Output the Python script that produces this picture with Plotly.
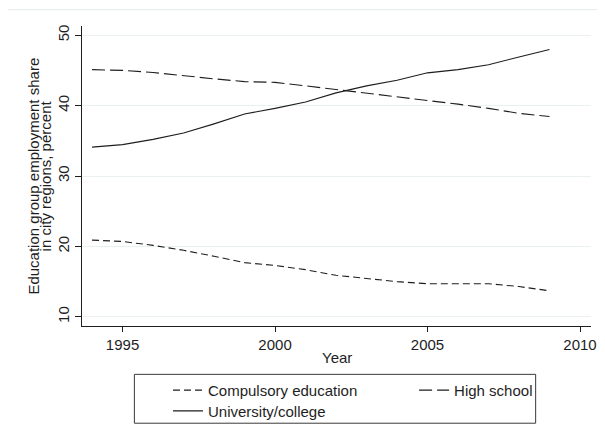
import plotly.graph_objects as go

years = list(range(1994, 2010))
compulsory = [20.9, 20.7, 20.15, 19.45, 18.6, 17.7, 17.3, 16.7, 15.9, 15.4, 15.0, 14.7, 14.7, 14.7, 14.3, 13.7]
high_school = [45.1, 45.0, 44.7, 44.2, 43.8, 43.4, 43.3, 42.8, 42.3, 41.8, 41.2, 40.7, 40.2, 39.6, 38.9, 38.45]
university = [34.1, 34.45, 35.2, 36.1, 37.4, 38.8, 39.6, 40.5, 41.8, 42.8, 43.6, 44.65, 45.1, 45.8, 46.9, 47.95]

x_ticks = [1995, 2000, 2005, 2010]
y_ticks = [10, 20, 30, 40, 50]

FONT = "Liberation Sans, Arial, sans-serif"
INK = "#1e1e1e"

# page body has an 8px margin; figure is sized/placed to compensate
OFF = 8
PL, PR, PT, PB = 82, 597, 26, 330  # plot area in page pixels
FW, FH = 605 - OFF, 444 - 2 * OFF


def px_x(px):
    return (px - PL) / (PR - PL)


def px_y(py):
    return (PB - py) / (PB - PT)


fig = go.Figure()
fig.add_trace(go.Scatter(x=years, y=compulsory, mode="lines", name="Compulsory education",
                         line=dict(color=INK, width=1.1, dash="7px,4px"), legend="legend"))
fig.add_trace(go.Scatter(x=years, y=high_school, mode="lines", name="High school",
                         line=dict(color=INK, width=1.1, dash="13px,5px"), legend="legend2"))
fig.add_trace(go.Scatter(x=years, y=university, mode="lines", name="University/college",
                         line=dict(color=INK, width=1.1), legend="legend3"))

leg_common = dict(xanchor="left", yanchor="top", orientation="v",
                  bgcolor="rgba(0,0,0,0)", borderwidth=0, font=dict(size=15, color=INK))

fig.update_layout(
    width=FW, height=FH,
    margin=dict(l=PL - OFF, r=FW - (PR - OFF), t=PT - OFF, b=FH - (PB - OFF)),
    paper_bgcolor="white", plot_bgcolor="white",
    font=dict(family=FONT, size=15, color=INK),
    xaxis=dict(range=[1993.67, 2010.36], tickvals=x_ticks, ticks="outside", ticklen=5,
               tickcolor=INK, showline=True, linecolor=INK, linewidth=1,
               showgrid=False, zeroline=False, tickfont=dict(size=15, color=INK)),
    yaxis=dict(range=[8.7, 51.3], tickvals=y_ticks, ticks="outside", ticklen=6,
               tickcolor=INK, showline=True, linecolor=INK, linewidth=1,
               showgrid=True, gridcolor="#eaf0f2", gridwidth=1, zeroline=False,
               tickangle=-90, tickfont=dict(size=15, color=INK)),
    legend=dict(x=px_x(169), y=px_y(378.5), **leg_common),
    legend2=dict(x=px_x(418), y=px_y(378.5), **leg_common),
    legend3=dict(x=px_x(169), y=px_y(399.5), **leg_common),
    showlegend=True,
)

fig.add_shape(type="rect", xref="paper", yref="paper",
              x0=px_x(135), x1=px_x(541), y0=px_y(428.5), y1=px_y(379),
              line=dict(color="#3a3a3a", width=1), fillcolor="rgba(0,0,0,0)")
fig.add_shape(type="line", xref="paper", yref="paper",
              x0=px_x(6), x1=px_x(605), y0=px_y(9.5), y1=px_y(9.5),
              line=dict(color="#e6eaec", width=1))

fig.add_annotation(text="Year", xref="paper", yref="paper", x=0.5, y=px_y(362),
                   xanchor="center", yanchor="middle", showarrow=False,
                   font=dict(size=15, color=INK))
fig.add_annotation(text="Education group employment share", xref="paper", yref="paper",
                   x=px_x(32), y=px_y(178), xanchor="center", yanchor="middle", textangle=-90,
                   showarrow=False, font=dict(size=15, color=INK))
fig.add_annotation(text="in city regions, percent", xref="paper", yref="paper",
                   x=px_x(45), y=px_y(178), xanchor="center", yanchor="middle", textangle=-90,
                   showarrow=False, font=dict(size=15, color=INK))

fig.write_html("out.html")
